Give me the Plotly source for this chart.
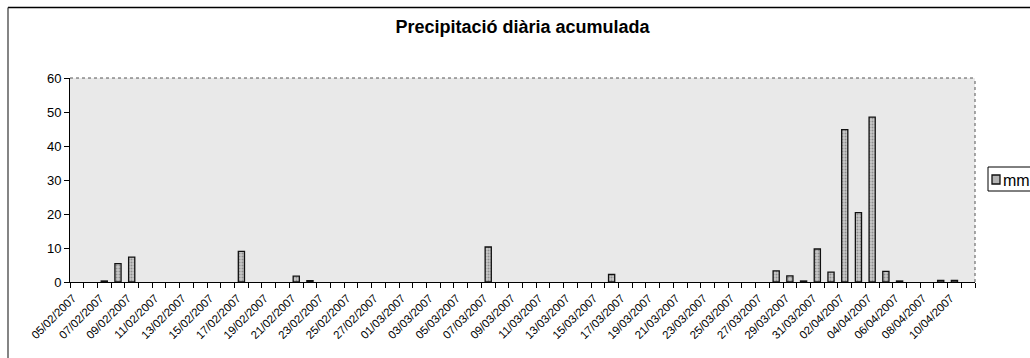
import plotly.graph_objects as go

dates = [
    "05/02/2007", "06/02/2007", "07/02/2007", "08/02/2007", "09/02/2007", "10/02/2007",
    "11/02/2007", "12/02/2007", "13/02/2007", "14/02/2007", "15/02/2007", "16/02/2007",
    "17/02/2007", "18/02/2007", "19/02/2007", "20/02/2007", "21/02/2007", "22/02/2007",
    "23/02/2007", "24/02/2007", "25/02/2007", "26/02/2007", "27/02/2007", "28/02/2007",
    "01/03/2007", "02/03/2007", "03/03/2007", "04/03/2007", "05/03/2007", "06/03/2007",
    "07/03/2007", "08/03/2007", "09/03/2007", "10/03/2007", "11/03/2007", "12/03/2007",
    "13/03/2007", "14/03/2007", "15/03/2007", "16/03/2007", "17/03/2007", "18/03/2007",
    "19/03/2007", "20/03/2007", "21/03/2007", "22/03/2007", "23/03/2007", "24/03/2007",
    "25/03/2007", "26/03/2007", "27/03/2007", "28/03/2007", "29/03/2007", "30/03/2007",
    "31/03/2007", "01/04/2007", "02/04/2007", "03/04/2007", "04/04/2007", "05/04/2007",
    "06/04/2007", "07/04/2007", "08/04/2007", "09/04/2007", "10/04/2007", "11/04/2007",
]

mm = [
    0, 0, 0.3, 5.4, 7.3, 0,
    0, 0, 0, 0, 0, 0,
    9.0, 0, 0, 0, 1.7, 0.4,
    0, 0, 0, 0, 0, 0,
    0, 0, 0, 0, 0, 0,
    10.3, 0, 0, 0, 0, 0,
    0, 0, 0, 2.2, 0, 0,
    0, 0, 0, 0, 0, 0,
    0, 0, 0, 3.3, 1.8, 0.3,
    9.7, 2.9, 44.8, 20.4, 48.5, 3.1,
    0.3, 0, 0, 0.5, 0.5, 0,
]

title_text = "Precipitació diària acumulada"
series_name = "mm"

idx = list(range(len(dates)))
label_idx = idx[::2]
label_txt = [dates[i] for i in label_idx]
boundaries = [i - 0.5 for i in range(len(dates) + 1)]
y_plot = [v if v > 0 else None for v in mm]

W, H = 1030, 358
L, R, T, B = 70, 55, 78, 76
pw = W - L - R
ph = H - T - B

BAR_FILL = "#b4b4b4"
BAR_EDGE = "#111111"

fig = go.Figure()
fig.add_trace(go.Bar(
    x=idx, y=y_plot, name=series_name,
    width=0.45, showlegend=False,
    marker=dict(
        color=BAR_FILL,
        line=dict(color=BAR_EDGE, width=1.3),
        pattern=dict(shape=".", fgcolor="#555555", bgcolor="#c8c8c8", size=3, solidity=0.35),
    ),
))

def px2x(p):
    return (p - L) / pw

def px2y(p):
    return (H - B - p) / ph

fig.update_layout(
    width=W, height=H,
    margin=dict(l=L, r=R, t=T, b=B, autoexpand=False),
    paper_bgcolor="white",
    plot_bgcolor="#e9e9e9",
    font=dict(family="Liberation Sans, Arial, sans-serif", color="black"),
    title=dict(text="<b>" + title_text + "</b>", x=0.5, xref="paper", xanchor="center",
               y=1 - 27 / H, yanchor="middle", font=dict(size=18, color="black")),
    xaxis=dict(
        range=[-0.5, len(dates) - 0.5],
        tickmode="array", tickvals=label_idx, ticktext=label_txt,
        ticks="", tickangle=-45, tickfont=dict(size=11.5),
        ticklabelshift=-4, ticklabelstandoff=4,
        showgrid=False, zeroline=False,
        showline=True, linecolor="black", linewidth=1,
        minor=dict(tickmode="array", tickvals=boundaries, ticks="outside",
                   ticklen=5, tickcolor="black", showgrid=False),
    ),
    yaxis=dict(
        range=[0, 60], dtick=10, ticks="outside", ticklen=5, tickcolor="black",
        tickfont=dict(size=13), showgrid=False, zeroline=False,
        showline=True, linecolor="black", linewidth=1,
    ),
    shapes=[
        dict(type="line", xref="paper", yref="paper", x0=0, x1=1, y0=1, y1=1,
             line=dict(color="#555555", width=1, dash="dot")),
        dict(type="line", xref="paper", yref="paper", x0=1, x1=1, y0=0, y1=1,
             line=dict(color="#555555", width=1, dash="dot")),
        dict(type="line", xref="paper", yref="paper", x0=px2x(8), x1=px2x(1040),
             y0=px2y(7.5), y1=px2y(7.5), line=dict(color="black", width=1.5)),
        dict(type="line", xref="paper", yref="paper", x0=px2x(8), x1=px2x(8),
             y0=px2y(7.5), y1=px2y(365), line=dict(color="#333333", width=1.2)),
        # legend box and swatch
        dict(type="rect", xref="paper", yref="paper", x0=px2x(988), x1=px2x(1045),
             y0=px2y(191), y1=px2y(167), fillcolor="white",
             line=dict(color="black", width=1)),
        dict(type="rect", xref="paper", yref="paper", x0=px2x(992), x1=px2x(1000),
             y0=px2y(184), y1=px2y(175), fillcolor=BAR_FILL,
             line=dict(color=BAR_EDGE, width=1.3)),
    ],
    annotations=[
        dict(text=series_name, xref="paper", yref="paper", x=px2x(1001), y=px2y(180),
             xanchor="left", yanchor="middle", showarrow=False,
             font=dict(size=16, color="black")),
    ],
)

fig.write_html("out.html")
